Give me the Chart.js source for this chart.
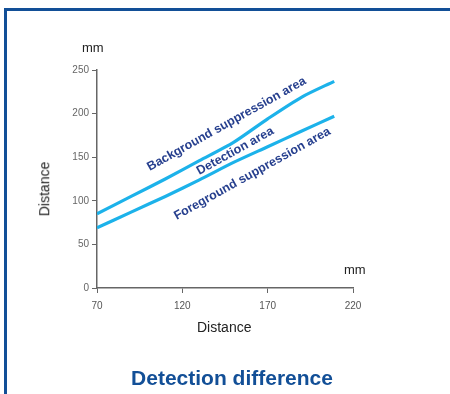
<!DOCTYPE html>
<html>
<head>
<meta charset="utf-8">
<script src="https://cdn.jsdelivr.net/npm/chart.js@4.4.1/dist/chart.umd.min.js"></script>
<style>
  html, body { margin: 0; padding: 0; background: #fff; }
  #wrap { position: relative; width: 450px; height: 394px; overflow: hidden; font-family: "Liberation Sans", Arial, sans-serif; }
  #frame { position: absolute; left: 4px; top: 8px; width: 460px; height: 400px; border-top: 3px solid #124f97; border-left: 3px solid #124f97; }
  #chart { position: absolute; left: 0; top: 0; }
  .lbl { position: absolute; color: #222; white-space: nowrap; }
  #title { position: absolute; left: 0; width: 464px; top: 366px; text-align: center; font-weight: bold; font-size: 21px; color: #124f97; }
</style>
</head>
<body>
<div id="wrap">
  <div id="frame"></div>
  <canvas id="chart" width="450" height="394"></canvas>
  <div class="lbl" style="left:82px; top:40px; font-size:13px;">mm</div>
  <div class="lbl" style="left:344px; top:262px; font-size:13px;">mm</div>
  <div class="lbl" style="left:197px; top:319px; font-size:14px;">Distance</div>
  <div class="lbl" style="left:17px; top:181px; font-size:14px; transform: rotate(-90deg); transform-origin: 50% 50%;">Distance</div>
  <div id="title">Detection difference</div>
</div>
<script>
// distance along x (mm)
const distances = [70, 90, 110, 130, 150, 170, 190, 209];
// upper boundary (background suppression / detection)
const upperLimit = [85, 105, 125, 146, 167, 194, 219, 237];
// lower boundary (detection / foreground suppression)
const lowerLimit = [69, 87, 105, 124, 144, 162, 180, 197];

const xTicks = [70, 120, 170, 220];
const yTicks = [0, 50, 100, 150, 200, 250];

// area labels placed in data space
const areaLabels = [
  { text: 'Background suppression area', x: 146, y: 188 },
  { text: 'Detection area', x: 151, y: 157 },
  { text: 'Foreground suppression area', x: 161, y: 131 }
];

const toPoints = (xs, ys) => xs.map((x, i) => ({ x: x, y: ys[i] }));

const areaLabelPlugin = {
  id: 'areaLabels',
  afterDatasetsDraw(chart) {
    const { ctx, scales } = chart;
    const x = scales.x, y = scales.y;
    const n = distances.length - 1;
    const dx = x.getPixelForValue(distances[n]) - x.getPixelForValue(distances[0]);
    const dy = y.getPixelForValue(upperLimit[n]) - y.getPixelForValue(upperLimit[0]);
    const angle = Math.atan2(dy, dx);
    ctx.save();
    ctx.fillStyle = '#263f8e';
    ctx.font = 'bold 12.5px "Liberation Sans", Arial, sans-serif';
    ctx.textAlign = 'center';
    ctx.textBaseline = 'middle';
    areaLabels.forEach(l => {
      ctx.save();
      ctx.translate(x.getPixelForValue(l.x), y.getPixelForValue(l.y));
      ctx.rotate(angle);
      ctx.fillText(l.text, 0, 0);
      ctx.restore();
    });
    ctx.restore();
  }
};

const ctx = document.getElementById('chart').getContext('2d');

new Chart(ctx, {
  type: 'line',
  data: {
    datasets: [
      {
        label: 'Upper',
        data: toPoints(distances, upperLimit),
        borderColor: '#1cb2ea',
        borderWidth: 3.2,
        pointRadius: 0,
        tension: 0.25,
        fill: false
      },
      {
        label: 'Lower',
        data: toPoints(distances, lowerLimit),
        borderColor: '#1cb2ea',
        borderWidth: 3.2,
        pointRadius: 0,
        tension: 0.25,
        fill: false
      }
    ]
  },
  options: {
    responsive: false,
    animation: false,
    layout: {
      padding: { left: 0, top: 70, right: 97, bottom: 0 }
    },
    plugins: {
      legend: { display: false },
      tooltip: { enabled: false }
    },
    scales: {
      x: {
        type: 'linear',
        min: 70,
        max: 220,
        afterFit: (s) => { s.height = 106; },
        afterBuildTicks: (s) => { s.ticks = xTicks.map(v => ({ value: v })); },
        grid: {
          drawOnChartArea: false,
          drawTicks: true,
          tickLength: 5,
          color: '#666'
        },
        border: { color: '#666', width: 1.5 },
        ticks: {
          color: '#555',
          font: { size: 10, family: '"Liberation Sans", Arial, sans-serif' },
          padding: 7,
          maxRotation: 0
        }
      },
      y: {
        min: 0,
        max: 250,
        afterFit: (s) => { s.width = 97; },
        afterBuildTicks: (s) => { s.ticks = yTicks.map(v => ({ value: v })); },
        grid: {
          drawOnChartArea: false,
          drawTicks: true,
          tickLength: 5,
          color: '#666'
        },
        border: { color: '#666', width: 1.5 },
        ticks: {
          color: '#666',
          font: { size: 10, family: '"Liberation Sans", Arial, sans-serif' },
          padding: 3
        }
      }
    }
  },
  plugins: [areaLabelPlugin]
});
</script>
</body>
</html>
